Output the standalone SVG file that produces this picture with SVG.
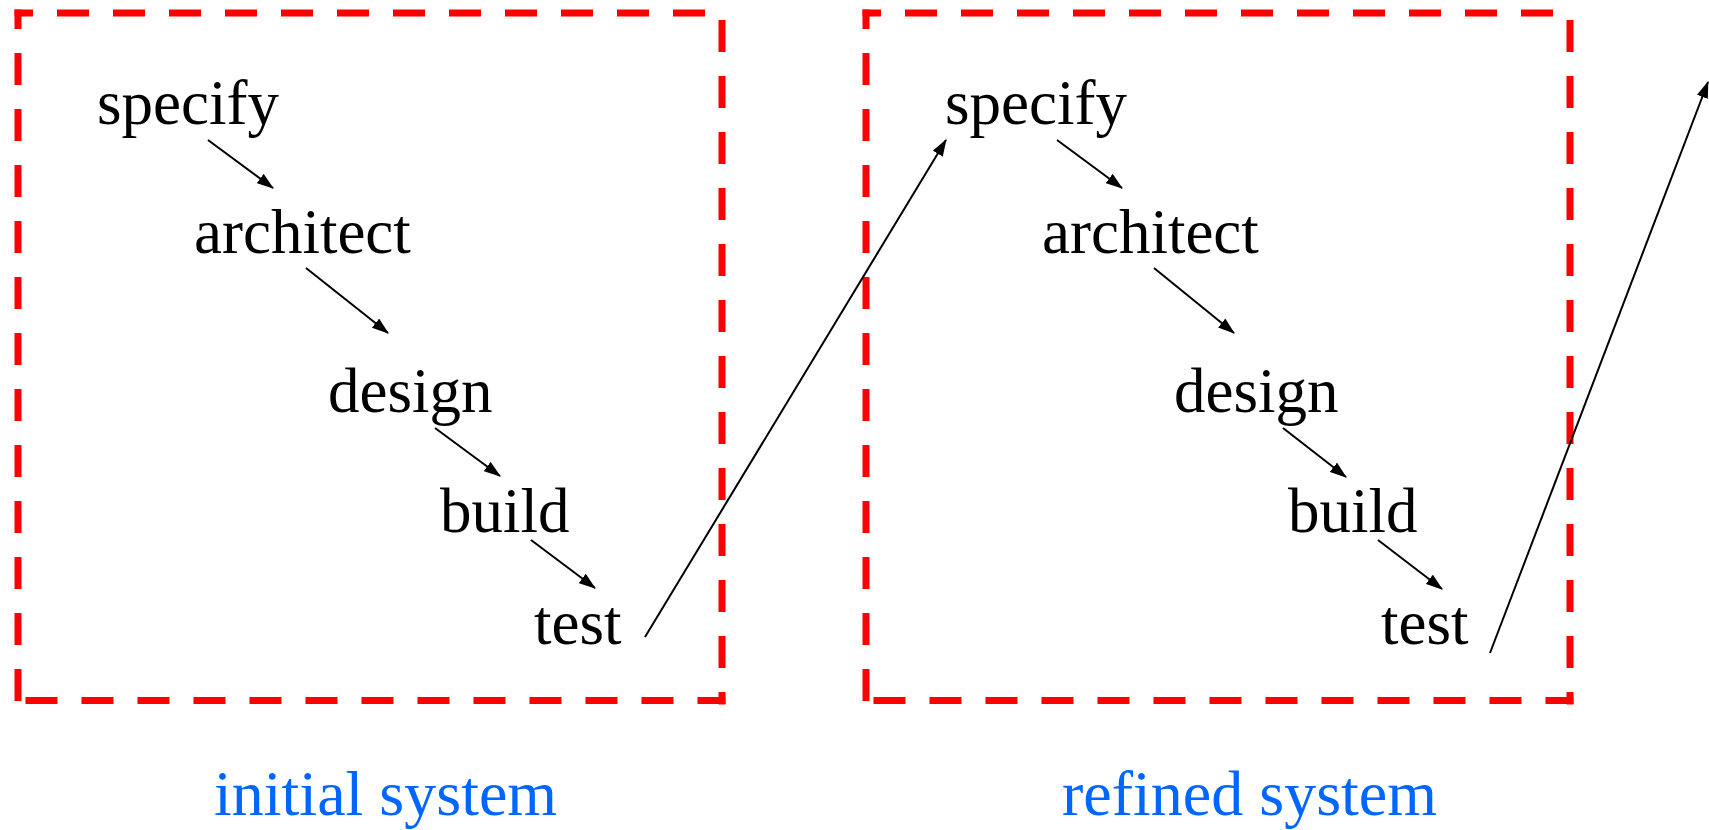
<svg xmlns="http://www.w3.org/2000/svg" width="1709" height="830" viewBox="0 0 1709 830">
<style>
.bg{fill:#ffffff}
.dash{stroke:#ff0000;stroke-width:7;fill:none;stroke-dasharray:32 24;stroke-linecap:butt}
.node{font-family:"Liberation Serif","Times New Roman",serif;font-size:63px;fill:#000000}
.label{font-family:"Liberation Serif","Times New Roman",serif;font-size:64px;fill:#0066ff}
.conn{stroke:#000000;stroke-width:2;fill:none;marker-end:url(#arrow)}
</style>
<defs>
<marker id="arrow" markerUnits="userSpaceOnUse" markerWidth="17" markerHeight="12" viewBox="0 0 16 11" refX="15" refY="5.5" orient="auto">
<path d="M0,0 L16,5.5 L0,11 Z" fill="#000000"/>
</marker>
</defs>
<rect class="bg" x="0" y="0" width="1709" height="830"/>
<g id="box-initial">
<line class="dash" x1="18" y1="704.5" x2="18" y2="9.5" stroke-dashoffset="52.5"/>
<line class="dash" x1="14.5" y1="13" x2="725.5" y2="13" stroke-dashoffset="13.5"/>
<line class="dash" x1="722" y1="9.5" x2="722" y2="704.5" stroke-dashoffset="45.5"/>
<line class="dash" x1="725.5" y1="700.5" x2="14.5" y2="700.5" stroke-dashoffset="4"/>
</g>
<g id="box-refined">
<line class="dash" x1="866" y1="704.5" x2="866" y2="9.5" stroke-dashoffset="52.5"/>
<line class="dash" x1="862.5" y1="13" x2="1573.5" y2="13" stroke-dashoffset="13.5"/>
<line class="dash" x1="1570" y1="9.5" x2="1570" y2="704.5" stroke-dashoffset="45.5"/>
<line class="dash" x1="1573.5" y1="700.5" x2="862.5" y2="700.5" stroke-dashoffset="4"/>
</g>
<g id="connectors">
<line class="conn" x1="208" y1="140" x2="273" y2="188"/>
<line class="conn" x1="306" y1="268" x2="388" y2="333"/>
<line class="conn" x1="435" y1="428" x2="500" y2="476"/>
<line class="conn" x1="531" y1="540" x2="595" y2="588"/>
<line class="conn" x1="645" y1="637" x2="946" y2="140"/>
<line class="conn" x1="1057" y1="140" x2="1122" y2="188"/>
<line class="conn" x1="1154" y1="268" x2="1234" y2="333"/>
<line class="conn" x1="1283" y1="428" x2="1346" y2="477"/>
<line class="conn" x1="1378" y1="540" x2="1442" y2="589"/>
<line class="conn" x1="1490" y1="653" x2="1708" y2="82"/>
</g>
<g id="n-specify-1"><text class="node" x="97" y="124">specify</text></g>
<g id="n-architect-1"><text class="node" x="194" y="253">architect</text></g>
<g id="n-design-1"><text class="node" x="328" y="412">design</text></g>
<g id="n-build-1"><text class="node" x="440" y="532">build</text></g>
<g id="n-test-1"><text class="node" x="534" y="644">test</text></g>
<g id="n-specify-2"><text class="node" x="945" y="124">specify</text></g>
<g id="n-architect-2"><text class="node" x="1042" y="253">architect</text></g>
<g id="n-design-2"><text class="node" x="1174" y="412">design</text></g>
<g id="n-build-2"><text class="node" x="1288" y="532">build</text></g>
<g id="n-test-2"><text class="node" x="1381" y="644">test</text></g>
<g id="label-initial"><text class="label" x="214" y="815">initial system</text></g>
<g id="label-refined"><text class="label" x="1062" y="815">refined system</text></g>
</svg>
